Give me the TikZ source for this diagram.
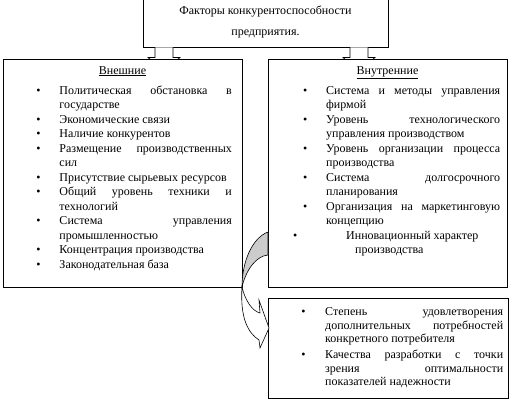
\documentclass[tikz,border=0pt]{standalone}
\usepackage{fontspec}
\setmainfont{Liberation Serif}
\usetikzlibrary{positioning}

% bullet list used inside the boxes
\newenvironment{factlist}[2][0pt]{%
  \begin{list}{\textbullet}{\setlength{\leftmargin}{0pt}%
    \setlength{\labelwidth}{6pt}\setlength{\labelsep}{#2}%
    \setlength{\itemsep}{#1}\setlength{\parsep}{0pt}%
    \setlength{\topsep}{0pt}\setlength{\partopsep}{0pt}}%
  \hyphenpenalty=10000 \tolerance=10000 \hbadness=10000}{\end{list}}

\tikzset{
  factbox/.style={draw, line width=0.8pt, fill=white, inner sep=0pt, anchor=north west},
  headline/.style={font=\fontsize{12}{14}\selectfont, inner sep=0pt, anchor=base},
  factlines/.style={text width=#1, align=justify, inner sep=0pt, anchor=north west},
  downblock/.style={draw, line width=0.8pt, fill=white},
  bendback/.style={draw, line width=0.6pt, fill=gray!40},
  bendfront/.style={draw, line width=0.6pt, fill=white},
}

\begin{document}
\begin{tikzpicture}[x=1pt,y=-1pt]
\useasboundingbox (0,0) rectangle (512,408);

\node[draw, line width=0.8pt, fill=white, minimum width=245pt, minimum height=50pt, align=center, font=\fontsize{12}{21}\selectfont] (title) at (265.5,22) {Факторы конкурентоспособности\\предприятия.};

% arrows from the title, heads go under the boxes
\path[downblock] (title.south) ++(-110.5,0) -- ++(0,10) -- ++(-7,0) -- ++(16,15) -- ++(16,-15) -- ++(-7,0) -- ++(0,-10);
\path[downblock] (title.south) ++(84.5,0) -- ++(0,10) -- ++(-7,0) -- ++(16,15) -- ++(16,-15) -- ++(-7,0) -- ++(0,-10);

\node[factbox, minimum width=239pt, minimum height=228pt] (outer) at (3,59) {};
\node[factbox, minimum width=239pt, minimum height=228pt] (inner) at (268,59) {};
\node[factbox, minimum width=240pt, minimum height=100pt] (extra) at (268,298) {};

\node[headline] (outerhead) at (122.5,74) {\underline{Внешние}};
\node[headline] (innerhead) at (387.5,74) {\underline{Внутренние}};

\node[factlines=172.4pt, font=\fontsize{12}{14.5}\selectfont] (outerlist) at (59.3,79.3) {%
\begin{factlist}{18.9pt}
\item Политическая обстановка в\linebreak государстве
\item Экономические связи
\item Наличие конкурентов
\item Размещение производственных\linebreak сил
\item Присутствие сырьевых ресурсов
\item Общий уровень техники и\linebreak технологий
\item Система управления\linebreak промышленностью
\item Концентрация производства
\item Законодательная база
\end{factlist}};

\node[factlines=174pt, font=\fontsize{12}{14.5}\selectfont] (innerlist) at (326,79.3) {%
\begin{factlist}{18.9pt}
\item Система и методы управления\linebreak фирмой
\item Уровень технологического\linebreak управления производством
\item Уровень организации процесса\linebreak производства
\item Система долгосрочного\linebreak планирования
\item Организация на маркетинговую\linebreak концепцию
\item[\llap{\textbullet\hspace*{10pt}}] \hspace*{20pt}Инновационный характер\\\hspace*{29pt}производства
\end{factlist}};

\node[factlines=178pt, font=\fontsize{12}{13.3}\selectfont] (extralist) at (325,302.3) {%
\begin{factlist}[3pt]{19.6pt}
\item Степень удовлетворения\linebreak дополнительных потребностей\linebreak конкретного потребителя
\item Качества разработки с точки\linebreak зрения оптимальности\linebreak показателей надежности
\end{factlist}};

% curved arrow from the right box down to the lower box
\coordinate (bendtop) at (268,232);
\coordinate (bendlow) at (268,255);
\coordinate (bendleft) at (242,287);
\coordinate (bendtip) at (269,328);
\path[bendback] (bendtop) .. controls (252,238) and (242,262) .. (bendleft) .. controls (246,270) and (256,256) .. (bendlow) -- cycle;
\path[bendfront] (bendleft) .. controls (245,300) and (252,311) .. (260,313) -- (259,300) -- (bendtip) -- (260,348) -- (259,340) .. controls (248,333) and (240,318) .. (bendleft) -- cycle;
\end{tikzpicture}
\end{document}
